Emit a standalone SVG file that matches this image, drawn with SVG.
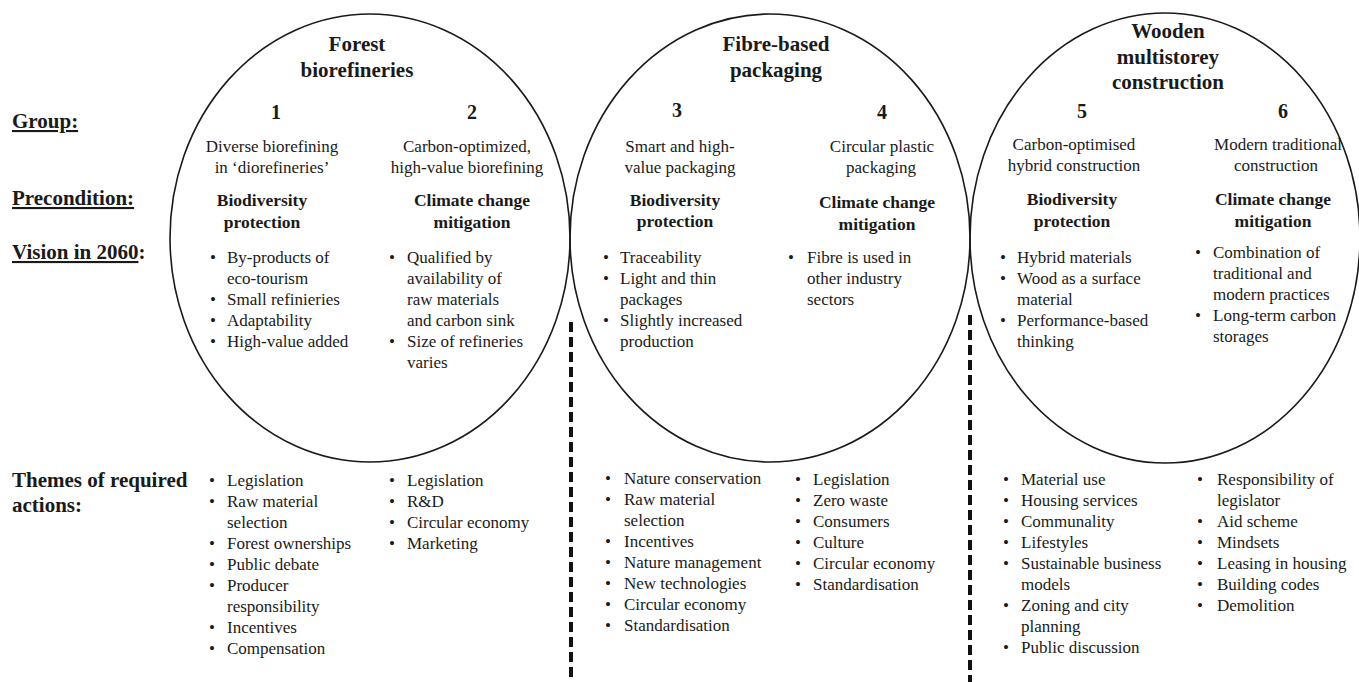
<svg xmlns="http://www.w3.org/2000/svg" width="1359" height="682" viewBox="0 0 1359 682">
<style>
text{font-family:"Liberation Serif","Times New Roman",serif;fill:#1a1a1a}
.lab{font-size:21px;font-weight:bold}
.u{text-decoration:underline}
.ttl{font-size:21px;font-weight:bold;text-anchor:middle}
.num{font-size:20px;font-weight:bold;text-anchor:middle}
.sub{font-size:17px;text-anchor:middle}
.pre{font-size:17.5px;font-weight:bold;text-anchor:middle}
.b{font-size:17px}
.ell{fill:none;stroke:#1a1a1a;stroke-width:1.6}
.dash{stroke:#111;stroke-width:4;stroke-dasharray:10 5;fill:none}
</style>
<rect width="1359" height="682" fill="#fff"/>
<g id="labels">
<text class="lab u" x="12" y="128">Group:</text>
<text class="lab u" x="12" y="205">Precondition:</text>
<text class="lab" x="12" y="259"><tspan class="u">Vision in 2060</tspan>:</text>
<text class="lab" x="12" y="487">Themes of required</text>
<text class="lab" x="12" y="512">actions:</text>
</g>
<g id="connectors">
<line class="dash" x1="571" y1="322" x2="571" y2="682"/>
<line class="dash" x1="970" y1="315" x2="970" y2="682"/>
</g>
<g id="forest-biorefineries">
<ellipse class="ell" cx="370" cy="238" rx="200" ry="224"/>
<text class="ttl" x="357" y="51">Forest</text>
<text class="ttl" x="357" y="77">biorefineries</text>
</g>
<g id="group1">
<text class="num" x="276" y="119">1</text>
<text class="sub" x="272" y="152">Diverse biorefining</text>
<text class="sub" x="272" y="173">in ‘diorefineries’</text>
<text class="pre" x="262" y="206">Biodiversity</text>
<text class="pre" x="262" y="228">protection</text>
<g class="b">
<text x="210" y="263">•</text><text x="227" y="263">By-products of</text>
<text x="227" y="284">eco-tourism</text>
<text x="210" y="305">•</text><text x="227" y="305">Small refinieries</text>
<text x="210" y="326">•</text><text x="227" y="326">Adaptability</text>
<text x="210" y="347">•</text><text x="227" y="347">High-value added</text>
</g>
<g class="b">
<text x="209" y="486">•</text><text x="227" y="486">Legislation</text>
<text x="209" y="507">•</text><text x="227" y="507">Raw material</text>
<text x="227" y="528">selection</text>
<text x="209" y="549">•</text><text x="227" y="549">Forest ownerships</text>
<text x="209" y="570">•</text><text x="227" y="570">Public debate</text>
<text x="209" y="591">•</text><text x="227" y="591">Producer</text>
<text x="227" y="612">responsibility</text>
<text x="209" y="633">•</text><text x="227" y="633">Incentives</text>
<text x="209" y="654">•</text><text x="227" y="654">Compensation</text>
</g>
</g>
<g id="group2">
<text class="num" x="472" y="119">2</text>
<text class="sub" x="467" y="152">Carbon-optimized,</text>
<text class="sub" x="467" y="173">high-value biorefining</text>
<text class="pre" x="472" y="206">Climate change</text>
<text class="pre" x="472" y="228">mitigation</text>
<g class="b">
<text x="389" y="263">•</text><text x="407" y="263">Qualified by</text>
<text x="407" y="284">availability of</text>
<text x="407" y="305">raw materials</text>
<text x="407" y="326">and carbon sink</text>
<text x="389" y="347">•</text><text x="407" y="347">Size of refineries</text>
<text x="407" y="368">varies</text>
</g>
<g class="b">
<text x="389" y="486">•</text><text x="407" y="486">Legislation</text>
<text x="389" y="507">•</text><text x="407" y="507">R&amp;D</text>
<text x="389" y="528">•</text><text x="407" y="528">Circular economy</text>
<text x="389" y="549">•</text><text x="407" y="549">Marketing</text>
</g>
</g>
<g id="fibre-based-packaging">
<ellipse class="ell" cx="770" cy="238" rx="200" ry="224"/>
<text class="ttl" x="776" y="51">Fibre-based</text>
<text class="ttl" x="776" y="77">packaging</text>
</g>
<g id="group3">
<text class="num" x="677" y="117">3</text>
<text class="sub" x="680" y="152">Smart and high-</text>
<text class="sub" x="680" y="173">value packaging</text>
<text class="pre" x="675" y="206">Biodiversity</text>
<text class="pre" x="675" y="227">protection</text>
<g class="b">
<text x="603" y="263">•</text><text x="620" y="263">Traceability</text>
<text x="603" y="284">•</text><text x="620" y="284">Light and thin</text>
<text x="620" y="305">packages</text>
<text x="603" y="326">•</text><text x="620" y="326">Slightly increased</text>
<text x="620" y="347">production</text>
</g>
<g class="b">
<text x="605" y="484">•</text><text x="624" y="484">Nature conservation</text>
<text x="605" y="505">•</text><text x="624" y="505">Raw material</text>
<text x="624" y="526">selection</text>
<text x="605" y="547">•</text><text x="624" y="547">Incentives</text>
<text x="605" y="568">•</text><text x="624" y="568">Nature management</text>
<text x="605" y="589">•</text><text x="624" y="589">New technologies</text>
<text x="605" y="610">•</text><text x="624" y="610">Circular economy</text>
<text x="605" y="631">•</text><text x="624" y="631">Standardisation</text>
</g>
</g>
<g id="group4">
<text class="num" x="882" y="119">4</text>
<text class="sub" x="882" y="152">Circular plastic</text>
<text class="sub" x="881" y="173">packaging</text>
<text class="pre" x="877" y="208">Climate change</text>
<text class="pre" x="877" y="230">mitigation</text>
<g class="b">
<text x="788" y="263">•</text><text x="807" y="263">Fibre is used in</text>
<text x="807" y="284">other industry</text>
<text x="807" y="305">sectors</text>
</g>
<g class="b">
<text x="795" y="485">•</text><text x="813" y="485">Legislation</text>
<text x="795" y="506">•</text><text x="813" y="506">Zero waste</text>
<text x="795" y="527">•</text><text x="813" y="527">Consumers</text>
<text x="795" y="548">•</text><text x="813" y="548">Culture</text>
<text x="795" y="569">•</text><text x="813" y="569">Circular economy</text>
<text x="795" y="590">•</text><text x="813" y="590">Standardisation</text>
</g>
</g>
<g id="wooden-multistorey-construction">
<ellipse class="ell" cx="1165" cy="238" rx="195" ry="225"/>
<text class="ttl" x="1168" y="38">Wooden</text>
<text class="ttl" x="1168" y="64">multistorey</text>
<text class="ttl" x="1168" y="89">construction</text>
</g>
<g id="group5">
<text class="num" x="1082" y="118">5</text>
<text class="sub" x="1074" y="150">Carbon-optimised</text>
<text class="sub" x="1074" y="171">hybrid construction</text>
<text class="pre" x="1072" y="205">Biodiversity</text>
<text class="pre" x="1072" y="227">protection</text>
<g class="b">
<text x="1000" y="263">•</text><text x="1017" y="263">Hybrid materials</text>
<text x="1000" y="284">•</text><text x="1017" y="284">Wood as a surface</text>
<text x="1017" y="305">material</text>
<text x="1000" y="326">•</text><text x="1017" y="326">Performance-based</text>
<text x="1017" y="347">thinking</text>
</g>
<g class="b">
<text x="1003" y="485">•</text><text x="1021" y="485">Material use</text>
<text x="1003" y="506">•</text><text x="1021" y="506">Housing services</text>
<text x="1003" y="527">•</text><text x="1021" y="527">Communality</text>
<text x="1003" y="548">•</text><text x="1021" y="548">Lifestyles</text>
<text x="1003" y="569">•</text><text x="1021" y="569">Sustainable business</text>
<text x="1021" y="590">models</text>
<text x="1003" y="611">•</text><text x="1021" y="611">Zoning and city</text>
<text x="1021" y="632">planning</text>
<text x="1003" y="653">•</text><text x="1021" y="653">Public discussion</text>
</g>
</g>
<g id="group6">
<text class="num" x="1283" y="118">6</text>
<text class="sub" x="1278" y="150">Modern traditional</text>
<text class="sub" x="1276" y="171">construction</text>
<text class="pre" x="1273" y="205">Climate change</text>
<text class="pre" x="1273" y="227">mitigation</text>
<g class="b">
<text x="1195" y="258">•</text><text x="1213" y="258">Combination of</text>
<text x="1213" y="279">traditional and</text>
<text x="1213" y="300">modern practices</text>
<text x="1195" y="321">•</text><text x="1213" y="321">Long-term carbon</text>
<text x="1213" y="342">storages</text>
</g>
<g class="b">
<text x="1197" y="485">•</text><text x="1217" y="485">Responsibility of</text>
<text x="1217" y="506">legislator</text>
<text x="1197" y="527">•</text><text x="1217" y="527">Aid scheme</text>
<text x="1197" y="548">•</text><text x="1217" y="548">Mindsets</text>
<text x="1197" y="569">•</text><text x="1217" y="569">Leasing in housing</text>
<text x="1197" y="590">•</text><text x="1217" y="590">Building codes</text>
<text x="1197" y="611">•</text><text x="1217" y="611">Demolition</text>
</g>
</g>
</svg>
